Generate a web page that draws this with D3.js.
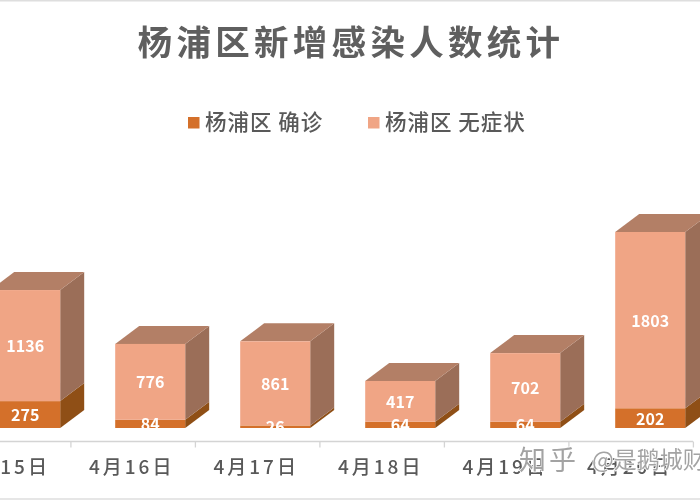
<!DOCTYPE html>
<html><head><meta charset="utf-8">
<script src="https://cdnjs.cloudflare.com/ajax/libs/d3/7.8.5/d3.min.js"></script>
<style>
html,body{margin:0;padding:0;background:#fff;overflow:hidden}
svg{display:block;filter:blur(0.5px)}
text{font-family:"Noto Sans CJK SC","Noto Sans",sans-serif}
</style></head><body><div id="c"></div>
<script>
const categories=["4月15日","4月16日","4月17日","4月18日","4月19日","4月20日"];
const confirmed=[275,84,26,64,64,202];
const asymptomatic=[1136,776,861,417,702,1803];
const seriesNames=["杨浦区 确诊","杨浦区 无症状"];
const title="杨浦区新增感染人数统计";
const watermark=["知乎","@是鹅城财圳"];

const W=700,H=500,base=428,dx=24,dy=-18;
const svg=d3.select("#c").append("svg").attr("width",W).attr("height",H);
svg.append("rect").attr("width",W).attr("height",H).attr("fill","#fff");
svg.append("line").attr("x1",0).attr("x2",W).attr("y1",0.5).attr("y2",0.5).attr("stroke","#dedede").attr("stroke-width",2);
svg.append("line").attr("x1",0).attr("x2",W).attr("y1",499).attr("y2",499).attr("stroke","#dedede").attr("stroke-width",1.5);
const defs=svg.append("defs");
defs.append("clipPath").attr("id","baseClip").append("rect").attr("x",-50).attr("y",0).attr("width",800).attr("height",base+1);

const x=d3.scaleBand().domain(categories).range([-37.3,712.7]).paddingInner(.44).paddingOuter(.22);
const y=d3.scaleLinear().domain([0,2005]).range([base,base-196]);
const xAxis=d3.scaleBand().domain(categories).range([-53.6,693.4]);

const palette={
  a:{front:"#F0A585",top:"#B37F66",side:"#9B6E58"},
  c:{front:"#D4702A",top:"#9A5520",side:"#8F4F16"}
};
const poly=(pts,fill,g)=>g.append("polygon").attr("points",pts.map(p=>p.join(",")).join(" ")).attr("fill",fill);

const data=categories.map((c,i)=>({c,conf:confirmed[i],asym:asymptomatic[i]}));
const bars=svg.selectAll("g.bar").data(data).join("g").attr("class","bar");
bars.each(function(d){
  const g=d3.select(this),l=x(d.c),r=l+x.bandwidth();
  const y0=y(0),y1=y(d.conf),y2=y(d.conf+d.asym);
  poly([[r,y0],[r+dx,y0+dy],[r+dx,y1+dy],[r,y1]],palette.c.side,g);
  poly([[r,y1],[r+dx,y1+dy],[r+dx,y2+dy],[r,y2]],palette.a.side,g);
  poly([[l,y2],[r,y2],[r+dx,y2+dy],[l+dx,y2+dy]],palette.a.top,g);
  g.append("rect").attr("x",l).attr("y",y1).attr("width",x.bandwidth()).attr("height",y0-y1).attr("fill",palette.c.front);
  g.append("rect").attr("x",l).attr("y",y2).attr("width",x.bandwidth()).attr("height",y1-y2).attr("fill",palette.a.front);
  const lab=g.append("g").attr("clip-path","url(#baseClip)")
    .attr("fill","#fff").attr("font-size",16).attr("font-weight",700).attr("text-anchor","middle")
    .attr("font-family","'Noto Sans','Open Sans',sans-serif");
  lab.append("text").attr("x",(l+r)/2).attr("y",(y0+y1)/2).attr("dy","0.4em").text(d.conf);
  lab.append("text").attr("x",(l+r)/2).attr("y",(y1+y2)/2).attr("dy","0.4em").text(d.asym);
});

// axis
const axisY=441.5;
svg.append("line").attr("x1",0).attr("x2",693).attr("y1",axisY).attr("y2",axisY).attr("stroke","#d4d4d4").attr("stroke-width",1.3);
svg.selectAll("line.tick").data(categories).join("line").attr("class","tick")
  .attr("x1",d=>xAxis(d)+xAxis.step()).attr("x2",d=>xAxis(d)+xAxis.step())
  .attr("y1",axisY).attr("y2",axisY+6).attr("stroke","#d4d4d4").attr("stroke-width",1.3);
svg.selectAll("text.cat").data(categories).join("text").attr("class","cat")
  .attr("x",d=>xAxis(d)+xAxis.bandwidth()/2-1.5).attr("y",474).attr("text-anchor","middle")
  .attr("font-size",19).attr("font-weight",500).attr("letter-spacing",3).attr("fill","#595959").text(d=>d);

// title
svg.append("text").attr("x",351).attr("y",55).attr("text-anchor","middle").attr("font-size",34.5)
  .attr("font-weight",700).attr("letter-spacing",4.3).attr("fill","#5f5f5f").text(title);

// legend
const legendX=[188,368],legendColors=[palette.c.front,palette.a.front];
const leg=svg.selectAll("g.leg").data(seriesNames).join("g").attr("class","leg");
leg.append("rect").attr("x",(d,i)=>legendX[i]).attr("y",117).attr("width",11.5).attr("height",11.5).attr("fill",(d,i)=>legendColors[i]);
leg.append("text").attr("x",(d,i)=>legendX[i]+17).attr("y",130).attr("font-size",21.5).attr("font-weight",500)
  .attr("letter-spacing",1).attr("fill","#595959").text(d=>d);

// watermark
const wm=svg.append("g").attr("font-weight",400).attr("fill","#a3a3a3").attr("stroke","#fff").attr("stroke-width",1.6).attr("paint-order","stroke");
wm.append("text").attr("x",519).attr("y",470).attr("font-size",27).attr("letter-spacing",3).text(watermark[0]);
wm.append("text").attr("x",592).attr("y",468).attr("font-size",23).text(watermark[1]);
</script></body></html>
